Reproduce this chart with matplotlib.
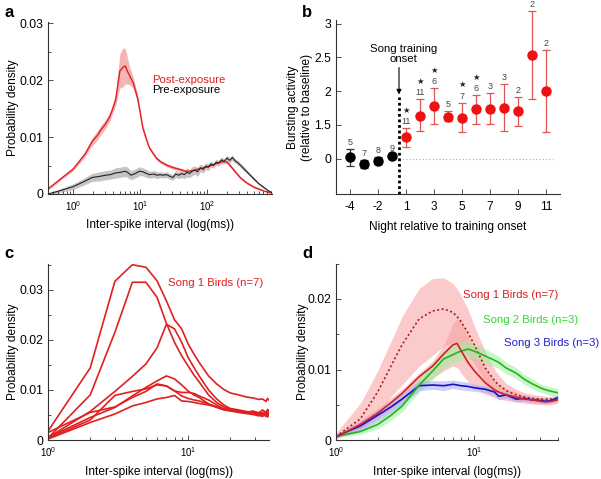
import numpy as np
import matplotlib.pyplot as plt
from matplotlib.ticker import MultipleLocator, LogLocator, NullFormatter

plt.rcParams["font.family"] = ["Liberation Sans", "DejaVu Sans"]

# ---------------- panel a: ISI distributions pre / post exposure
post_x = [0.42, 1.0, 1.5, 1.92, 2.3, 2.57, 3.0, 3.5, 3.85, 4.3, 4.98, 5.5, 6.0, 6.5, 6.9,
          7.9, 9.2, 11, 12.5, 13.8, 15.5, 17.5, 20, 24.7, 30, 39.4, 48, 56, 70, 89,
          110, 142, 179, 200, 226, 270, 320, 400, 510, 720, 1000]
post_y = [0.0009, 0.0044, 0.0070, 0.0092, 0.0103, 0.0112, 0.0122, 0.0135, 0.0148, 0.0165,
          0.0216, 0.0222, 0.0225, 0.0215, 0.0209, 0.0195, 0.0168, 0.0116, 0.0095, 0.0081,
          0.0072, 0.0063, 0.0057, 0.0051, 0.0047, 0.0043, 0.0040, 0.0040, 0.0043, 0.0046,
          0.0049, 0.0054, 0.0057, 0.0056, 0.0049, 0.0038, 0.0028, 0.0019, 0.0012, 0.0005, 0.0001]
post_err = [0.0002, 0.0003, 0.0005, 0.0007, 0.0008, 0.0008, 0.0008, 0.0008, 0.0008, 0.0010,
            0.0030, 0.0034, 0.0031, 0.0023, 0.0016, 0.0010, 0.0007, 0.0005, 0.0004, 0.0003,
            0.0003, 0.0003, 0.0003, 0.0003, 0.0003, 0.0003, 0.0003, 0.0003, 0.0003, 0.0003,
            0.0003, 0.0003, 0.0003, 0.0003, 0.0003, 0.0003, 0.0002, 0.0002, 0.0002, 0.0001, 0.0001]

pre_x = [0.42, 0.6, 1.0, 1.4, 1.92, 2.5, 3.05, 3.6, 4.3, 5.0, 6.0, 6.5, 7.3, 8.5, 9.8,
         11, 12.5, 13.8, 16, 18, 20, 22, 25, 28, 31, 34, 38, 42, 46, 50, 55, 60, 66, 72,
         80, 88, 96, 105, 115, 125, 138, 150, 165, 180, 200, 220, 240, 265, 290, 320,
         360, 420, 510, 600, 720, 850, 1000]
pre_y = [0.0000, 0.0005, 0.0013, 0.0021, 0.0029, 0.0031, 0.0033, 0.0034, 0.0037, 0.0038,
         0.0040, 0.0038, 0.0033, 0.0036, 0.0040, 0.0039, 0.0036, 0.0034, 0.0035, 0.0033,
         0.0034, 0.0033, 0.0034, 0.0031, 0.0029, 0.0035, 0.0033, 0.0036, 0.0034, 0.0038,
         0.0036, 0.0040, 0.0042, 0.0039, 0.0046, 0.0043, 0.0049, 0.0047, 0.0053, 0.0050,
         0.0056, 0.0054, 0.0060, 0.0057, 0.0063, 0.0059, 0.0064, 0.0058, 0.0055, 0.0050,
         0.0044, 0.0036, 0.0026, 0.0018, 0.0011, 0.0005, 0.0001]
pre_err = [0.0001, 0.0003, 0.0005, 0.0006, 0.0007, 0.0008, 0.0008, 0.0008, 0.0009, 0.0009,
           0.0009, 0.0009, 0.0008, 0.0008, 0.0008, 0.0007, 0.0007, 0.0006, 0.0006, 0.0006,
           0.0005, 0.0005, 0.0005, 0.0005, 0.0005, 0.0006, 0.0006, 0.0007, 0.0007, 0.0008,
           0.0007, 0.0008, 0.0007, 0.0008, 0.0007, 0.0006, 0.0006, 0.0006, 0.0005, 0.0005,
           0.0005, 0.0005, 0.0005, 0.0005, 0.0005, 0.0005, 0.0005, 0.0004, 0.0004, 0.0004,
           0.0004, 0.0003, 0.0003, 0.0002, 0.0002, 0.0001, 0.0001]

# ---------------- panel b: bursting activity per night
nights = [-4, -3, -2, -1, 1, 2, 3, 4, 5, 6, 7, 8, 9, 10, 11]
burst = [1.02, 0.93, 0.975, 1.035, 1.32, 1.64, 1.78, 1.62, 1.61, 1.73, 1.74, 1.75, 1.71, 2.54, 2.00]
burst_hi = [1.14, 0.98, 1.02, 1.06, 1.45, 1.88, 2.05, 1.70, 1.83, 1.94, 1.97, 2.10, 1.91, 3.18, 2.61]
burst_lo = [0.89, 0.87, 0.93, 1.01, 1.18, 1.41, 1.51, 1.56, 1.40, 1.51, 1.52, 1.41, 1.49, 1.89, 1.40]
n_birds = [5, 7, 8, 9, 11, 11, 6, 5, 7, 6, 3, 3, 2, 2, 2]
signif = [0, 0, 0, 0, 1, 1, 1, 0, 1, 1, 0, 0, 0, 0, 0]
b_ticks = [-4, -2, 1, 3, 5, 7, 9, 11]
b_ytick_labels = ["0", "1.5", "2", "2.5", "3"]

# ---------------- panel c: individual song 1 birds
c_x = [1, 2, 3, 4, 5, 6, 7, 8, 9, 10, 11, 12, 14, 16, 18, 20, 23, 26, 29, 32, 34, 36, 37, 38]
c_birds = [
    [0.0018, 0.0144, 0.0317, 0.0350, 0.0345, 0.0318, 0.0278, 0.0240, 0.0222, 0.0192, 0.0172, 0.0155,
     0.0128, 0.0112, 0.0101, 0.0094, 0.0090, 0.0086, 0.0084, 0.0081, 0.0082, 0.0077, 0.0083, 0.0079],
    [0.0004, 0.0090, 0.0215, 0.0315, 0.0315, 0.0285, 0.0233, 0.0195, 0.0168, 0.0148, 0.0130, 0.0116,
     0.0090, 0.0075, 0.0066, 0.0062, 0.0058, 0.0056, 0.0054, 0.0052, 0.0055, 0.0050, 0.0056, 0.0052],
    [0.0005, 0.0057, 0.0097, 0.0127, 0.0152, 0.0184, 0.0231, 0.0222, 0.0195, 0.0165, 0.0145, 0.0128,
     0.0100, 0.0082, 0.0070, 0.0063, 0.0060, 0.0057, 0.0055, 0.0054, 0.0050, 0.0056, 0.0051, 0.0057],
    [0.0005, 0.0045, 0.0065, 0.0088, 0.0105, 0.0118, 0.0128, 0.0122, 0.0110, 0.0098, 0.0090, 0.0085,
     0.0072, 0.0065, 0.0060, 0.0058, 0.0056, 0.0054, 0.0052, 0.0048, 0.0053, 0.0047, 0.0052, 0.0049],
    [0.0003, 0.0040, 0.0089, 0.0097, 0.0102, 0.0110, 0.0108, 0.0098, 0.0095, 0.0095, 0.0093, 0.0088,
     0.0080, 0.0070, 0.0062, 0.0060, 0.0057, 0.0055, 0.0058, 0.0054, 0.0060, 0.0055, 0.0061, 0.0058],
    [0.0015, 0.0055, 0.0066, 0.0085, 0.0097, 0.0112, 0.0108, 0.0098, 0.0088, 0.0083, 0.0080, 0.0078,
     0.0072, 0.0066, 0.0062, 0.0059, 0.0055, 0.0053, 0.0051, 0.0050, 0.0047, 0.0052, 0.0046, 0.0050],
    [0.0002, 0.0035, 0.0052, 0.0068, 0.0075, 0.0082, 0.0085, 0.0089, 0.0078, 0.0077, 0.0075, 0.0073,
     0.0070, 0.0066, 0.0062, 0.0060, 0.0058, 0.0056, 0.0053, 0.0055, 0.0051, 0.0054, 0.0049, 0.0055],
]

# ---------------- panel d: group means
d_x = [1, 1.5, 2, 2.5, 3, 4, 5, 6, 7, 7.5, 8, 9, 10, 12, 14, 15, 17, 20, 23, 26, 30, 33, 36, 40]
s1_all = [0.0005, 0.0030, 0.0068, 0.0105, 0.0135, 0.0172, 0.0183, 0.0186, 0.0181, 0.0175, 0.0168, 0.0152,
          0.0135, 0.0102, 0.0084, 0.0078, 0.0070, 0.0064, 0.0061, 0.0059, 0.0058, 0.0058, 0.0058, 0.0059]
s1_all_hi = [0.0010, 0.0052, 0.0098, 0.0140, 0.0175, 0.0215, 0.0229, 0.0230, 0.0222, 0.0214, 0.0205, 0.0185,
             0.0162, 0.0125, 0.0100, 0.0092, 0.0080, 0.0072, 0.0067, 0.0065, 0.0063, 0.0062, 0.0062, 0.0063]
s1_all_lo = [0.0002, 0.0015, 0.0035, 0.0062, 0.0078, 0.0105, 0.0120, 0.0133, 0.0138, 0.0138, 0.0132, 0.0118,
             0.0108, 0.0082, 0.0068, 0.0066, 0.0060, 0.0057, 0.0055, 0.0054, 0.0053, 0.0053, 0.0053, 0.0054]
s1 = [0.0004, 0.0022, 0.0038, 0.0053, 0.0066, 0.0090, 0.0105, 0.0122, 0.0135, 0.0137, 0.0127, 0.0110,
      0.0098, 0.0081, 0.0071, 0.0068, 0.0064, 0.0061, 0.0058, 0.0057, 0.0055, 0.0054, 0.0055, 0.0057]
s1_hi = [0.0008, 0.0028, 0.0045, 0.0060, 0.0072, 0.0095, 0.0112, 0.0135, 0.0165, 0.0172, 0.0168, 0.0148,
         0.0128, 0.0100, 0.0084, 0.0079, 0.0072, 0.0068, 0.0064, 0.0062, 0.0060, 0.0059, 0.0060, 0.0062]
s1_lo = [0.0002, 0.0016, 0.0030, 0.0043, 0.0055, 0.0075, 0.0088, 0.0098, 0.0105, 0.0103, 0.0095, 0.0083,
         0.0074, 0.0065, 0.0060, 0.0058, 0.0056, 0.0054, 0.0052, 0.0051, 0.0050, 0.0050, 0.0050, 0.0052]
s2 = [0.0005, 0.0012, 0.0022, 0.0035, 0.0048, 0.0078, 0.0098, 0.0115, 0.0121, 0.0124, 0.0126, 0.0129,
      0.0126, 0.0119, 0.0113, 0.0110, 0.0102, 0.0095, 0.0086, 0.0080, 0.0074, 0.0071, 0.0069, 0.0067]
s2_err = [0.0002, 0.0004, 0.0006, 0.0007, 0.0008, 0.0010, 0.0012, 0.0013, 0.0013, 0.0013, 0.0013, 0.0012,
          0.0011, 0.0010, 0.0009, 0.0009, 0.0008, 0.0008, 0.0007, 0.0007, 0.0006, 0.0006, 0.0006, 0.0006]
s3 = [0.0005, 0.0020, 0.0035, 0.0047, 0.0058, 0.0077, 0.0078, 0.0077, 0.0079, 0.0078, 0.0077, 0.0076,
      0.0074, 0.0072, 0.0068, 0.0062, 0.0064, 0.0058, 0.0059, 0.0057, 0.0056, 0.0055, 0.0056, 0.0060]
s3_err = [0.0002, 0.0007, 0.0008, 0.0008, 0.0008, 0.0007, 0.0006, 0.0007, 0.0006, 0.0006, 0.0006, 0.0006,
          0.0005, 0.0005, 0.0005, 0.0005, 0.0005, 0.0004, 0.0004, 0.0004, 0.0004, 0.0004, 0.0004, 0.0004]

LABEL_FS = 8.6
NOTE_FS = 8.2


def style_axes(ax):
    for s in ["top", "right"]:
        ax.spines[s].set_visible(False)
    for s in ["left", "bottom"]:
        ax.spines[s].set_linewidth(0.8)
        ax.spines[s].set_color("#333333")
    ax.tick_params(which="both", direction="in", width=0.6, colors="#333333", labelcolor="black")
    ax.tick_params(which="major", length=3.5, labelsize=8.8)
    ax.tick_params(which="minor", length=2)
    ax.tick_params(axis="x", which="major", labelsize=7, pad=4)


def log_axis(ax):
    ax.set_xscale("log")
    ax.xaxis.set_major_locator(LogLocator(base=10))
    ax.xaxis.set_minor_locator(LogLocator(base=10, subs=np.arange(2, 10)))
    ax.xaxis.set_minor_formatter(NullFormatter())


fig = plt.figure(figsize=(6.01, 4.79), dpi=100)

# ---- a
ax = fig.add_axes([0.080, 0.595, 0.373, 0.359])
post_lo = [y - e for y, e in zip(post_y, post_err)]
post_hi = [y + e for y, e in zip(post_y, post_err)]
pre_lo = [y - e for y, e in zip(pre_y, pre_err)]
pre_hi = [y + e for y, e in zip(pre_y, pre_err)]
ax.fill_between(pre_x, pre_lo, pre_hi, color="#c4c4c4", lw=0)
ax.fill_between(post_x, post_lo, post_hi, color="#f6b4b4", lw=0)
ax.plot(post_x, post_y, color="#e02020", lw=1.0)
ax.plot(pre_x, pre_y, color="#222222", lw=0.8)
log_axis(ax)
ax.set_xlim(0.42, 950)
ax.set_ylim(0, 0.0302)
ax.yaxis.set_minor_locator(MultipleLocator(0.005))
ax.set_yticks([0, 0.01, 0.02, 0.03], ["0", "0.01", "0.02", "0.03"])
style_axes(ax)
ax.set_xlabel("Inter-spike interval (log(ms))", fontsize=LABEL_FS, labelpad=4)
ax.set_ylabel("Probability density", fontsize=LABEL_FS, labelpad=0)
ax.text(0.464, 0.665, "Post-exposure", color="#e02020", fontsize=NOTE_FS, va="center",
        transform=ax.transAxes)
ax.text(0.464, 0.603, "Pre-exposure", color="black", fontsize=NOTE_FS, va="center",
        transform=ax.transAxes)
fig.text(0.008, 0.965, "a", fontsize=12, fontweight="bold")

# ---- b
ax = fig.add_axes([0.559, 0.595, 0.373, 0.363])
xpos = [n + 4 if n < 0 else n + 3 for n in nights]
for i in range(len(nights)):
    pre = nights[i] < 0
    ecol = "#333333" if pre else "#e05555"
    mcol = "black" if pre else "#ee1111"
    ax.errorbar(xpos[i], burst[i],
                yerr=[[burst[i] - burst_lo[i]], [burst_hi[i] - burst[i]]],
                fmt="o", ms=6.5, mfc=mcol, mec=mcol, ecolor=ecol, elinewidth=0.9,
                capsize=2.8, capthick=0.9, zorder=3, clip_on=False)
    ax.annotate(str(n_birds[i]), (xpos[i], burst_hi[i]), xytext=(0, 1.5),
                textcoords="offset points", ha="center", va="bottom",
                fontsize=6.5, color="#444444", annotation_clip=False)
    if signif[i]:
        ax.annotate("\u2605", (xpos[i], burst_hi[i]), xytext=(0, 9.5),
                    textcoords="offset points", ha="center", va="bottom",
                    fontsize=6, color="#222222", annotation_clip=False)
onset = 3.5
ax.plot([onset, 14.5], [1, 1], color="#aaaaaa", lw=0.8, ls=(0, (1, 2)))
ax.plot([onset, onset], [0.48, 1.91], color="black", lw=2, ls=(0, (1, 1)))
ax.annotate("", xy=(onset, 1.91), xytext=(onset, 2.39),
            arrowprops=dict(arrowstyle="-|>", color="black", lw=0.8, mutation_scale=7))
ax.text(3.8, 2.4, "Song training\nonset", ha="center", va="bottom", fontsize=NOTE_FS,
        linespacing=0.95)
ax.set_xlim(-1, 15)
ax.set_ylim(0.48, 3.05)
ax.set_xticks([xpos[nights.index(t)] for t in b_ticks], [str(t) for t in b_ticks])
ax.set_yticks([1, 1.5, 2, 2.5, 3], b_ytick_labels)
style_axes(ax)
ax.tick_params(axis="x", which="major", labelsize=8.5, pad=5)
ax.set_xlabel("Night relative to training onset", fontsize=LABEL_FS, labelpad=6)
ax.set_ylabel("Bursting activity\n(relative to baseline)", fontsize=LABEL_FS, labelpad=1)
fig.text(0.503, 0.965, "b", fontsize=12, fontweight="bold")

# ---- c
ax = fig.add_axes([0.080, 0.0814, 0.368, 0.368])
for bird in c_birds:
    ax.plot(c_x, bird, color="#e02020", lw=1.2)
log_axis(ax)
ax.set_xlim(1, 38)
ax.set_ylim(0, 0.0352)
ax.yaxis.set_minor_locator(MultipleLocator(0.005))
ax.set_yticks([0, 0.01, 0.02, 0.03], ["0", "0.01", "0.02", "0.03"])
style_axes(ax)
ax.set_xlabel("Inter-spike interval (log(ms))", fontsize=LABEL_FS, labelpad=5)
ax.set_ylabel("Probability density", fontsize=LABEL_FS, labelpad=0)
ax.text(0.543, 0.89, "Song 1 Birds (n=7)", color="#e02020", fontsize=NOTE_FS, va="center",
        transform=ax.transAxes)
fig.text(0.008, 0.462, "c", fontsize=12, fontweight="bold")

# ---- d
ax = fig.add_axes([0.559, 0.0814, 0.369, 0.368])
ax.fill_between(d_x, s1_all_lo, s1_all_hi, color="#f9a0a0", alpha=0.55, lw=0)
ax.fill_between(d_x, s1_lo, s1_hi, color="#f9a0a0", alpha=0.55, lw=0)
ax.fill_between(d_x, [a - e for a, e in zip(s2, s2_err)], [a + e for a, e in zip(s2, s2_err)],
                color="#9cf09c", alpha=0.55, lw=0)
ax.fill_between(d_x, [a - e for a, e in zip(s3, s3_err)], [a + e for a, e in zip(s3, s3_err)],
                color="#a8a8f4", alpha=0.55, lw=0)
ax.plot(d_x, s1_all, color="#b01818", lw=1.2, ls=(0, (1.2, 1.5)))
ax.plot(d_x, s3, color="#1212c8", lw=1.2)
ax.plot(d_x, s2, color="#22b522", lw=1.2)
ax.plot(d_x, s1, color="#d21e1e", lw=1.2)
log_axis(ax)
ax.set_xlim(1, 40)
ax.set_ylim(0, 0.025)
ax.yaxis.set_minor_locator(MultipleLocator(0.005))
ax.set_yticks([0, 0.01, 0.02], ["0", "0.01", "0.02"])
style_axes(ax)
ax.set_xlabel("Inter-spike interval (log(ms))", fontsize=LABEL_FS, labelpad=5)
ax.set_ylabel("Probability density", fontsize=LABEL_FS, labelpad=-1.5)
ax.text(0.572, 0.824, "Song 1 Birds (n=7)", color="#d42020", fontsize=NOTE_FS, va="center",
        transform=ax.transAxes)
ax.text(0.662, 0.682, "Song 2 Birds (n=3)", color="#33d633", fontsize=NOTE_FS, va="center",
        transform=ax.transAxes, clip_on=False)
ax.text(0.757, 0.551, "Song 3 Birds (n=3)", color="#2020c8", fontsize=NOTE_FS, va="center",
        transform=ax.transAxes, clip_on=False)
fig.text(0.503, 0.462, "d", fontsize=12, fontweight="bold")

fig.savefig("out.png", dpi=100)
